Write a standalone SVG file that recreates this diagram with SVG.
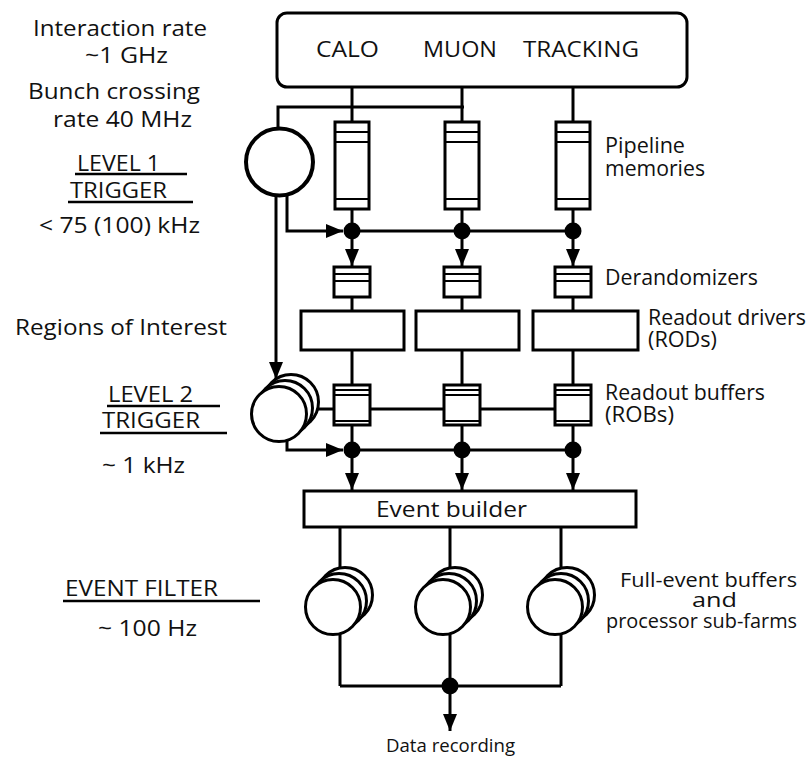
<svg xmlns="http://www.w3.org/2000/svg" width="811" height="760" viewBox="0 0 811 760">
  <style>
    text { font-family: "Open Sans", "Noto Sans", "DejaVu Sans", sans-serif; font-size: 22px; fill: #111; }
    .lbl { font-size: 21px; }
    .farm { font-size: 20px; }
    .small { font-size: 18px; }
    .box { fill: #fff; stroke: #000; stroke-width: 3; }
    .thin { stroke: #000; stroke-width: 2; fill: none; }
    .wire { stroke: #000; stroke-width: 3; fill: none; }
    .ul { stroke: #000; stroke-width: 2.5; }
    .dot { fill: #000; }
    .disk { fill: #fff; stroke: #000; stroke-width: 3; }
  </style>
  <defs>
    <marker id="arrow" markerUnits="userSpaceOnUse" viewBox="0 0 17 14" markerWidth="17" markerHeight="14" refX="17" refY="7" orient="auto">
      <path d="M0,0 L17,7 L0,14 Z" fill="#000"/>
    </marker>
    <g id="pipe">
      <rect class="box" x="-17" y="0" width="34" height="87"/>
      <line class="thin" x1="-17" y1="10" x2="17" y2="10"/>
      <line class="thin" x1="-17" y1="20" x2="17" y2="20"/>
      <line class="thin" x1="-17" y1="77" x2="17" y2="77"/>
    </g>
    <g id="derand">
      <rect class="box" x="-18" y="0" width="36" height="30"/>
      <line class="thin" x1="-18" y1="7" x2="18" y2="7"/>
      <line class="thin" x1="-18" y1="14" x2="18" y2="14"/>
    </g>
    <g id="rob">
      <rect class="box" x="-18" y="0" width="36" height="40"/>
      <line class="thin" x1="-18" y1="5" x2="18" y2="5"/>
      <line class="thin" x1="-18" y1="10" x2="18" y2="10"/>
      <line class="thin" x1="-18" y1="36" x2="18" y2="36"/>
    </g>
    <g id="stack">
      <circle class="disk" cx="12" cy="-12" r="27.5"/>
      <circle class="disk" cx="6" cy="-6" r="27.5"/>
      <circle class="disk" cx="0" cy="0" r="27.5"/>
    </g>
  </defs>

  <g id="connectors">
    <line class="wire" x1="352" y1="87" x2="352" y2="231"/>
    <line class="wire" x1="462" y1="87" x2="462" y2="231"/>
    <line class="wire" x1="573" y1="87" x2="573" y2="231"/>
    <polyline class="wire" points="278,140 278,107 464,107"/>
    <polyline class="wire" points="287,170 287,231 343,231" marker-end="url(#arrow)"/>
    <line class="wire" x1="352" y1="231" x2="573" y2="231"/>
    <line class="wire" x1="276" y1="170" x2="276" y2="379" marker-end="url(#arrow)"/>
    <line class="wire" x1="352" y1="231" x2="352" y2="266" marker-end="url(#arrow)"/>
    <line class="wire" x1="462" y1="231" x2="462" y2="266" marker-end="url(#arrow)"/>
    <line class="wire" x1="573" y1="231" x2="573" y2="266" marker-end="url(#arrow)"/>
    <line class="wire" x1="352" y1="297" x2="352" y2="450"/>
    <line class="wire" x1="462" y1="297" x2="462" y2="450"/>
    <line class="wire" x1="573" y1="297" x2="573" y2="450"/>
    <line class="wire" x1="300" y1="409" x2="573" y2="409"/>
    <polyline class="wire" points="287,420 287,450 343,450" marker-end="url(#arrow)"/>
    <line class="wire" x1="352" y1="450" x2="573" y2="450"/>
    <line class="wire" x1="352" y1="450" x2="352" y2="490" marker-end="url(#arrow)"/>
    <line class="wire" x1="462" y1="450" x2="462" y2="490" marker-end="url(#arrow)"/>
    <line class="wire" x1="573" y1="450" x2="573" y2="490" marker-end="url(#arrow)"/>
    <line class="wire" x1="340" y1="527" x2="340" y2="686"/>
    <line class="wire" x1="450" y1="527" x2="450" y2="686"/>
    <line class="wire" x1="561" y1="527" x2="561" y2="686"/>
    <line class="wire" x1="340" y1="686" x2="561" y2="686"/>
    <line class="wire" x1="450" y1="686" x2="450" y2="731" marker-end="url(#arrow)"/>
    <circle class="dot" cx="352" cy="231" r="8.5"/>
    <circle class="dot" cx="462" cy="231" r="8.5"/>
    <circle class="dot" cx="573" cy="231" r="8.5"/>
    <circle class="dot" cx="352" cy="450" r="8.5"/>
    <circle class="dot" cx="462" cy="450" r="8.5"/>
    <circle class="dot" cx="573" cy="450" r="8.5"/>
    <circle class="dot" cx="450" cy="686" r="8.5"/>
  </g>

  <g id="detectors">
    <rect class="box" x="277" y="13" width="410" height="74" rx="10"/>
    <text x="316" y="57" textLength="63" lengthAdjust="spacingAndGlyphs">CALO</text>
    <text x="423" y="57" textLength="74" lengthAdjust="spacingAndGlyphs">MUON</text>
    <text x="523" y="57" textLength="116" lengthAdjust="spacingAndGlyphs">TRACKING</text>
  </g>

  <g id="level1-trigger">
    <circle cx="279.5" cy="162" r="33.5" fill="#fff" stroke="#000" stroke-width="4"/>
  </g>

  <g id="pipeline-calo"><use href="#pipe" x="352" y="122"/></g>
  <g id="pipeline-muon"><use href="#pipe" x="462" y="122"/></g>
  <g id="pipeline-tracking"><use href="#pipe" x="573" y="122"/></g>

  <g id="derandomizer-calo"><use href="#derand" x="352" y="267"/></g>
  <g id="derandomizer-muon"><use href="#derand" x="462" y="267"/></g>
  <g id="derandomizer-tracking"><use href="#derand" x="573" y="267"/></g>

  <g id="rod-calo"><rect class="box" x="301" y="311" width="103" height="39"/></g>
  <g id="rod-muon"><rect class="box" x="416" y="311" width="103" height="39"/></g>
  <g id="rod-tracking"><rect class="box" x="533" y="311" width="105" height="39"/></g>

  <g id="rob-calo"><use href="#rob" x="352" y="385"/></g>
  <g id="rob-muon"><use href="#rob" x="462" y="385"/></g>
  <g id="rob-tracking"><use href="#rob" x="573" y="385"/></g>

  <g id="level2-trigger"><use href="#stack" x="279" y="414"/></g>

  <g id="event-builder">
    <rect class="box" x="304" y="491" width="332" height="36"/>
    <text x="376" y="517" textLength="151" lengthAdjust="spacingAndGlyphs">Event builder</text>
  </g>

  <g id="farm-1"><use href="#stack" x="333" y="607"/></g>
  <g id="farm-2"><use href="#stack" x="443" y="607"/></g>
  <g id="farm-3"><use href="#stack" x="555" y="607"/></g>

  <g id="left-labels">
    <text><tspan x="33" y="36" textLength="174" lengthAdjust="spacingAndGlyphs">Interaction rate</tspan><tspan x="85" y="63" textLength="83" lengthAdjust="spacingAndGlyphs">~1 GHz</tspan></text>
    <text><tspan x="28" y="99" textLength="172" lengthAdjust="spacingAndGlyphs">Bunch crossing</tspan><tspan x="53" y="127" textLength="139" lengthAdjust="spacingAndGlyphs">rate 40 MHz</tspan></text>
    <text><tspan x="77" y="171" textLength="83" lengthAdjust="spacingAndGlyphs">LEVEL 1</tspan><tspan x="70" y="198" textLength="97" lengthAdjust="spacingAndGlyphs">TRIGGER</tspan></text>
    <line class="ul" x1="75" y1="174" x2="187" y2="174"/>
    <line class="ul" x1="68" y1="202" x2="193" y2="202"/>
    <text x="39" y="233" textLength="161" lengthAdjust="spacingAndGlyphs">&lt; 75 (100) kHz</text>
    <text x="15" y="335" textLength="212" lengthAdjust="spacingAndGlyphs">Regions of Interest</text>
    <text><tspan x="108" y="402" textLength="85" lengthAdjust="spacingAndGlyphs">LEVEL 2</tspan><tspan x="102" y="428" textLength="98" lengthAdjust="spacingAndGlyphs">TRIGGER</tspan></text>
    <line class="ul" x1="107" y1="406" x2="220" y2="406"/>
    <line class="ul" x1="100" y1="433" x2="227" y2="433"/>
    <text x="102" y="473" textLength="83" lengthAdjust="spacingAndGlyphs">~ 1 kHz</text>
    <text x="65" y="596" textLength="153" lengthAdjust="spacingAndGlyphs">EVENT FILTER</text>
    <line class="ul" x1="63" y1="601" x2="260" y2="601"/>
    <text x="98" y="636" textLength="99" lengthAdjust="spacingAndGlyphs">~ 100 Hz</text>
  </g>

  <g id="right-labels">
    <text class="lbl"><tspan x="605" y="153" textLength="80" lengthAdjust="spacingAndGlyphs">Pipeline</tspan><tspan x="605" y="176" textLength="100" lengthAdjust="spacingAndGlyphs">memories</tspan></text>
    <text class="lbl" x="605" y="285" textLength="153" lengthAdjust="spacingAndGlyphs">Derandomizers</text>
    <text class="lbl"><tspan x="648" y="325" textLength="158" lengthAdjust="spacingAndGlyphs">Readout drivers</tspan><tspan x="648" y="347" textLength="69" lengthAdjust="spacingAndGlyphs">(RODs)</tspan></text>
    <text class="lbl"><tspan x="605" y="400" textLength="160" lengthAdjust="spacingAndGlyphs">Readout buffers</tspan><tspan x="605" y="422" textLength="69" lengthAdjust="spacingAndGlyphs">(ROBs)</tspan></text>
    <text class="farm"><tspan x="620" y="587" textLength="177" lengthAdjust="spacingAndGlyphs">Full-event buffers</tspan><tspan x="692" y="607" textLength="45" lengthAdjust="spacingAndGlyphs">and</tspan><tspan x="606" y="628" textLength="191" lengthAdjust="spacingAndGlyphs">processor sub-farms</tspan></text>
    <text class="small" x="386" y="752" textLength="129" lengthAdjust="spacingAndGlyphs">Data recording</text>
  </g>
</svg>
